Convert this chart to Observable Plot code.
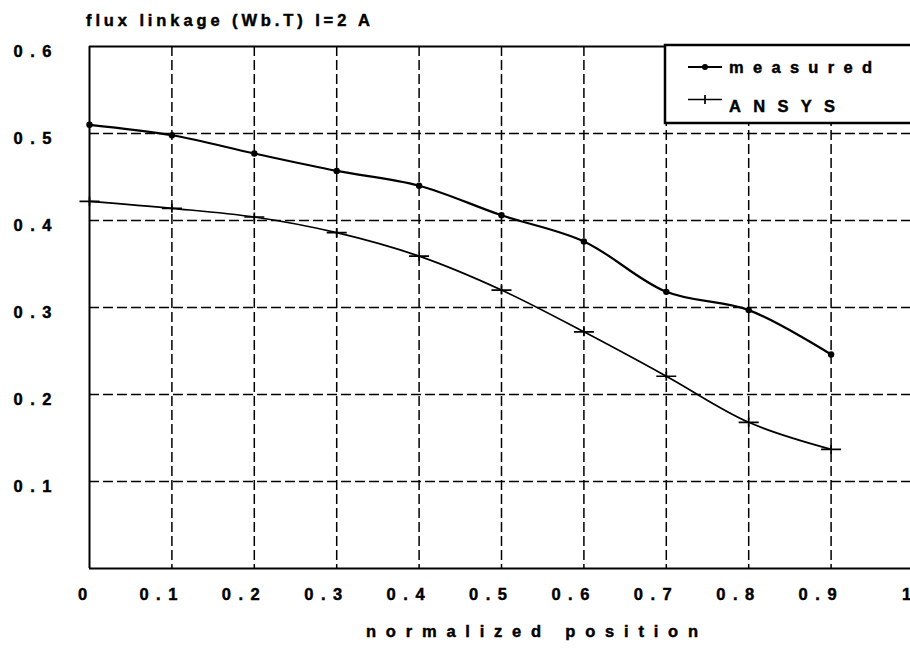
<!DOCTYPE html>
<html><head><meta charset="utf-8">
<script src="https://cdn.jsdelivr.net/npm/d3@7"></script>
<script src="https://cdn.jsdelivr.net/npm/@observablehq/plot@0.6"></script>
<style>
body{margin:0;background:#fff;}
#chart{position:relative;width:910px;height:651px;overflow:hidden;}
#chart svg text{font-family:"Liberation Sans",Arial,sans-serif;font-weight:bold;fill:#000;stroke:#000;stroke-width:0.45px;}
</style></head><body><div id="chart"></div>
<script>
const positions = [0, 0.1, 0.2, 0.3, 0.4, 0.5, 0.6, 0.7, 0.8, 0.9];
const measured  = [0.510, 0.498, 0.477, 0.457, 0.440, 0.406, 0.376, 0.318, 0.297, 0.246];
const ansys     = [0.422, 0.414, 0.404, 0.386, 0.359, 0.320, 0.272, 0.221, 0.168, 0.137];
const seriesNames = ["measured", "ANSYS"];
const xTicks = [0, 0.1, 0.2, 0.3, 0.4, 0.5, 0.6, 0.7, 0.8, 0.9, 1];
const xTickLabels = ["0", "0.1", "0.2", "0.3", "0.4", "0.5", "0.6", "0.7", "0.8", "0.9", "1"];
const yTicks = [0.1, 0.2, 0.3, 0.4, 0.5, 0.6];
const yTickLabels = ["0.1", "0.2", "0.3", "0.4", "0.5", "0.6"];
const titleText = "flux linkage (Wb.T) I=2 A";
const xLabelText = "normalized position";

const measuredData = positions.map((x, i) => ({x, y: measured[i], series: seriesNames[0]}));
const ansysData = positions.map((x, i) => ({x, y: ansys[i], series: seriesNames[1]}));
const xTickData = xTicks.map((v, i) => ({v, label: xTickLabels[i]}));
const yTickData = yTicks.map((v, i) => ({v, label: yTickLabels[i]}));

const plusSymbol = {draw(ctx) { ctx.moveTo(-10, 0); ctx.lineTo(10, 0); ctx.moveTo(0, -4.5); ctx.lineTo(0, 4.5); }};
const dash = "10,4";
const FS = 16.5;

const plot = Plot.plot({
  width: 910, height: 651,
  marginTop: 46, marginLeft: 89, marginBottom: 83, marginRight: 0,
  x: {domain: [0, 1], range: [89, 913], axis: null},
  y: {domain: [0, 0.6], range: [568, 46], axis: null},
  style: {background: "white", overflow: "hidden"},
  marks: [
    Plot.ruleX(xTicks.filter(d => d > 0 && d < 1), {stroke: "black", strokeWidth: 1.5, strokeDasharray: dash}),
    Plot.ruleY(yTicks.filter(d => d < 0.6), {stroke: "black", strokeWidth: 1.5, strokeDasharray: dash}),
    Plot.ruleX([0], {stroke: "black", strokeWidth: 2}),
    Plot.ruleY([0, 0.6], {stroke: "black", strokeWidth: 2}),
    Plot.line(ansysData, {x: "x", y: "y", curve: "catmull-rom", stroke: "black", strokeWidth: 1.7}),
    Plot.line(measuredData, {x: "x", y: "y", curve: "catmull-rom", stroke: "black", strokeWidth: 2.2}),
    Plot.dot(measuredData, {x: "x", y: "y", r: 3.2, fill: "black", stroke: "none"}),
    Plot.dot(ansysData, {x: "x", y: "y", symbol: plusSymbol, stroke: "black", strokeWidth: 1.7, fill: "none"}),
    Plot.text(xTickData.filter(d => d.label.length > 1), {x: "v", y: 0, text: "label", dy: 26, dx: -13.5, fontSize: FS}),
    Plot.text(xTickData.filter(d => d.label.length === 1), {x: "v", y: 0, text: "label", dy: 26, dx: -7, fontSize: FS}),
    Plot.text(yTickData, {x: 0, y: "v", text: "label", dx: -57, dy: 5, fontSize: FS})
  ]
});
document.getElementById("chart").appendChild(plot);

const svg = d3.select(plot);
svg.selectAll("text").each(function () {
  if (this.textContent.length === 3) {
    d3.select(this).attr("textLength", 38).attr("lengthAdjust", "spacing");
  }
});

// title
svg.append("text").attr("x", 86).attr("y", 26).attr("font-size", FS).attr("text-anchor", "start")
  .attr("textLength", 284).attr("lengthAdjust", "spacing").text(titleText);
// x axis label
svg.append("text").attr("x", 366).attr("y", 637).attr("font-size", FS).attr("text-anchor", "start")
  .attr("textLength", 332).attr("lengthAdjust", "spacing").text(xLabelText);

// legend
const lg = svg.append("g").attr("aria-label", "legend");
lg.append("rect").attr("x", 665).attr("y", 45).attr("width", 260).attr("height", 78)
  .attr("fill", "white").attr("stroke", "black").attr("stroke-width", 2.5);
lg.append("line").attr("x1", 688).attr("x2", 722).attr("y1", 67).attr("y2", 67)
  .attr("stroke", "black").attr("stroke-width", 2.2);
lg.append("circle").attr("cx", 705).attr("cy", 67).attr("r", 3).attr("fill", "black");
lg.append("path").attr("d", "M688,99.5H722M705,95V104").attr("stroke", "black").attr("stroke-width", 1.7).attr("fill", "none");
lg.append("text").attr("x", 729).attr("y", 73).attr("font-size", FS).attr("text-anchor", "start")
  .attr("textLength", 143).attr("lengthAdjust", "spacing").text(seriesNames[0]);
lg.append("text").attr("x", 729).attr("y", 112).attr("font-size", FS).attr("text-anchor", "start")
  .attr("textLength", 106).attr("lengthAdjust", "spacing").text(seriesNames[1]);
</script></body></html>
